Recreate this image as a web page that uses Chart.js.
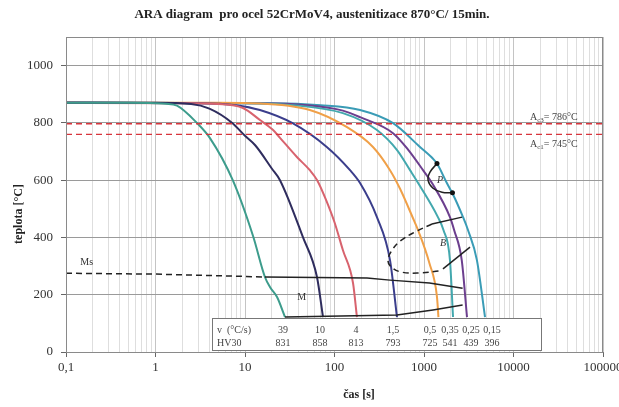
<!DOCTYPE html>
<html>
<head>
<meta charset="utf-8">
<script src="https://cdn.jsdelivr.net/npm/chart.js@4.4.0/dist/chart.umd.min.js"></script>
<style>html,body{margin:0;padding:0;background:#fff}</style>
</head>
<body>
<canvas id="ara" width="619" height="407"></canvas>
<script>
// axis ticks
const xTicks = [0.1, 1, 10, 100, 1000, 10000, 100000];
const xTickLabels = ['0,1', '1', '10', '100', '1000', '10000', '100000'];
const yTicks = [0, 200, 400, 600, 800, 1000];

// cooling rates and hardness (table under the curves)
const rateLabels = ['39', '10', '4', '1,5', '0,5', '0,35', '0,25', '0,15'];
const hv30 = [831, 858, 813, 793, 725, 541, 439, 396];

// cooling curves: time [s] / temperature [°C]
const t39 = [0.1, 0.5, 1, 1.3, 1.74, 2.9, 4.06, 7.3, 12.3, 16.7, 19, 22.8, 28];
const T39 = [870, 870, 869, 867, 860, 800, 747, 600, 405, 262, 227, 192, 122];
const t10 = [0.1, 1, 2.5, 4, 7.2, 10, 13, 20, 24.6, 44.5, 63.7, 74.4];
const T10 = [870, 870, 866, 850, 800, 755, 722, 640, 600, 400, 262, 122];
const t4 = [0.1, 2, 5, 9.5, 14.7, 20.6, 24.6, 38, 53, 64, 80, 100, 124, 161, 178];
const T4 = [870, 869, 866, 852, 810, 775, 748, 681, 635, 600, 533, 453, 356, 241, 122];
const t15 = [0.1, 3, 8, 14.7, 34, 82, 149, 193, 298, 417, 499];
const T15 = [870, 869, 862, 845, 799, 716, 635, 590, 471, 321, 122];
const t05 = [0.1, 5, 14.7, 53, 138, 269, 417, 540, 754, 857, 1150, 1397, 1450];
const T05 = [870, 870, 868, 845, 785, 716, 635, 570, 467, 426, 310, 192, 122];
const t035 = [0.1, 10, 34.4, 124, 298, 500, 698, 880, 1430, 1650, 1950, 2110];
const T035 = [870, 869, 862, 834, 775, 705, 635, 585, 471, 426, 321, 122];
const t025 = [0.1, 15, 50, 124, 193, 451, 670, 975, 1228, 1950, 2170, 2640, 3023];
const T025 = [870, 869, 862, 843, 820, 764, 705, 635, 590, 471, 426, 321, 122];
const t015 = [0.1, 20, 70, 193, 451, 902, 1261, 1397, 1800, 2110, 2729, 3100, 3900, 4805];
const T015 = [870, 869, 862, 845, 799, 716, 675, 658, 590, 550, 471, 426, 321, 122];

// transformation lines
const tMsDash = [0.1, 1, 16.7];
const TMsDash = [275, 272, 262];
const tMs = [16.7, 231, 417, 1150, 2700];
const TMs = [262, 258, 251, 241, 223];
const tMf = [28, 499, 1260, 2700];
const TMf = [122, 129, 147, 164];
const tBnose = [1228, 793, 540, 440, 396, 430, 560, 902, 1510];
const TBnose = [447, 419, 387, 356, 321, 297, 279, 276, 283];
const tBs = [1228, 2660];
const TBs = [447, 471];
const tBf = [1630, 3266];
const TBf = [290, 366];
const tP = [1397, 1167, 1109, 1261, 1589, 2080];
const TP = [658, 628, 600, 572, 558, 556];

// critical temperatures (lines as drawn)
const tCrit = [0.1, 100000];
const TAc3 = [797, 797];
const TAc1 = [760, 760];

const pts = (ts, Ts) => ts.map((t, i) => ({x: t, y: Ts[i]}));
const isDecade = v => Math.abs(Math.log10(v) - Math.round(Math.log10(v))) < 1e-6;

const curveColors = ['#3d9c8c', '#2f2d5e', '#d8636e', '#3b3e8c', '#f0a048', '#43a8ae', '#6c3f8e', '#3a9cb6'];
const curves = [[t39, T39], [t10, T10], [t4, T4], [t15, T15], [t05, T05], [t035, T035], [t025, T025], [t015, T015]];

const datasets = [];
const line = (data, color, extra) => Object.assign({
  data, borderColor: color, borderWidth: 1.5, pointRadius: 0, fill: false, tension: 0
}, extra || {});

datasets.push(line(pts(tMsDash, TMsDash), '#222', {borderDash: [6, 4]}));
datasets.push(line(pts(tMs, TMs), '#222'));
datasets.push(line(pts(tMf, TMf), '#222'));
datasets.push(line(pts(tBnose, TBnose), '#222', {borderDash: [6, 4], tension: 0.4}));
datasets.push(line(pts(tBs, TBs), '#222'));
datasets.push(line(pts(tBf, TBf), '#222'));
datasets.push(line(pts(tP, TP), '#222', {tension: 0.4, pointRadius: [2.5, 0, 0, 0, 0, 2.5], pointBackgroundColor: '#111', pointBorderWidth: 0}));
datasets.push(line(pts(tCrit, TAc3), '#d8343c', {borderDash: [6, 4], borderWidth: 1.4}));
datasets.push(line(pts(tCrit, TAc1), '#d8343c', {borderDash: [6, 4], borderWidth: 1.4}));
curves.forEach((c, i) => {
  datasets.push(line(pts(c[0], c[1]), curveColors[i], {borderWidth: 2, cubicInterpolationMode: 'monotone'}));
});

const serif = "'Liberation Serif', 'DejaVu Serif', serif";
const chartTitle = 'ARA diagram  pro ocel 52CrMoV4, austenitizace 870°C/ 15min.';

const decor = {
  id: 'decor',
  afterDatasetsDraw(chart) {
    const {ctx, chartArea: a, scales: {x, y}} = chart;
    ctx.save();
    // frame
    ctx.strokeStyle = '#8a8a8a';
    ctx.lineWidth = 1;
    ctx.strokeRect(a.left + 0.5, a.top + 0.5, a.right - a.left - 1, a.bottom - a.top);

    // title
    ctx.fillStyle = '#222';
    ctx.font = 'bold 13px ' + serif;
    ctx.textAlign = 'center';
    ctx.textBaseline = 'middle';
    ctx.fillText(chartTitle, 312, 15);

    // table
    ctx.fillStyle = '#fff';
    ctx.fillRect(212, 318, 329, 32);
    ctx.strokeStyle = '#777';
    ctx.strokeRect(212.5, 318.5, 329, 32);
    const colX = [283, 320, 356, 393, 430, 450, 471, 492];
    ctx.font = '10px ' + serif;
    ctx.fillStyle = '#444';
    ctx.textAlign = 'left';
    ctx.fillText('v  (°C/s)', 217, 330);
    ctx.fillText('HV30', 217, 343);
    ctx.textAlign = 'center';
    rateLabels.forEach((r, i) => ctx.fillText(r, colX[i], 330));
    hv30.forEach((h, i) => ctx.fillText(String(h), colX[i], 343));

    // region labels
    ctx.fillStyle = '#333';
    ctx.font = '10px ' + serif;
    ctx.fillText('Ms', x.getPixelForValue(0.17), y.getPixelForValue(314));
    ctx.fillText('M', x.getPixelForValue(43), y.getPixelForValue(192));
    ctx.font = 'italic 10px ' + serif;
    ctx.fillText('P', x.getPixelForValue(1510), y.getPixelForValue(600));
    ctx.fillText('B', x.getPixelForValue(1630), y.getPixelForValue(380));

    // critical temperature labels
    const sub = (main, s, rest, px, py) => {
      ctx.textAlign = 'left';
      ctx.textBaseline = 'alphabetic';
      ctx.font = '10px ' + serif;
      ctx.fillText(main, px, py);
      let w = ctx.measureText(main).width;
      ctx.font = '7px ' + serif;
      ctx.fillText(s, px + w, py + 2);
      w += ctx.measureText(s).width;
      ctx.font = '10px ' + serif;
      ctx.fillText(rest, px + w, py);
    };
    ctx.fillStyle = '#444';
    sub('A', 'c3', '= 786°C', x.getPixelForValue(15300), y.getPixelForValue(810));
    sub('A', 'c1', '= 745°C', x.getPixelForValue(15300), y.getPixelForValue(716));

    // axis titles
    ctx.fillStyle = '#222';
    ctx.font = 'bold 12px ' + serif;
    ctx.textAlign = 'center';
    ctx.textBaseline = 'middle';
    ctx.fillText('čas [s]', 359, 395);
    ctx.translate(19, 214);
    ctx.rotate(-Math.PI / 2);
    ctx.fillText('teplota [°C]', 0, 0);
    ctx.restore();
  }
};

new Chart(document.getElementById('ara'), {
  type: 'line',
  data: {datasets},
  plugins: [decor],
  options: {
    responsive: false,
    animation: false,
    devicePixelRatio: 1,
    layout: {padding: {left: 0, right: 16, top: 37, bottom: 0}},
    plugins: {
      legend: {display: false},
      tooltip: {enabled: false},
      title: {display: false}
    },
    scales: {
      x: {
        type: 'logarithmic',
        min: 0.1,
        max: 100000,
        afterBuildTicks: (s) => {
          const vals = [];
          xTicks.forEach((d, i) => {
            if (i === xTicks.length - 1) { vals.push(d); return; }
            for (let k = 1; k <= 9; k++) vals.push(+(d * k).toPrecision(3));
          });
          s.ticks = vals.map(v => ({value: v}));
        },
        afterFit: (s) => { s.height = 55; s.paddingLeft = 0; s.paddingRight = 0; },
        ticks: {
          autoSkip: false,
          maxRotation: 0,
          padding: 3,
          color: '#333',
          font: {family: serif, size: 13},
          callback: (v) => {
            const i = xTicks.findIndex(d => Math.abs(d - v) < 1e-9);
            return i >= 0 ? xTickLabels[i] : '';
          }
        },
        grid: {
          color: (c) => c.tick && isDecade(c.tick.value) ? '#c4c4c4' : '#dedede',
          tickColor: (c) => c.tick && isDecade(c.tick.value) ? '#666' : 'rgba(0,0,0,0)',
          tickLength: 5
        },
        border: {color: '#777'}
      },
      y: {
        min: 0,
        max: 1100,
        afterBuildTicks: (s) => { s.ticks = yTicks.map(v => ({value: v})); },
        afterFit: (s) => { s.width = 66; s.paddingTop = 0; s.paddingBottom = 0; },
        ticks: {
          padding: 8,
          color: '#333',
          font: {family: serif, size: 13},
          callback: (v) => String(v)
        },
        grid: {color: '#9a9a9a', tickColor: '#666', tickLength: 5},
        border: {color: '#777'}
      }
    }
  }
});
</script>
</body>
</html>
